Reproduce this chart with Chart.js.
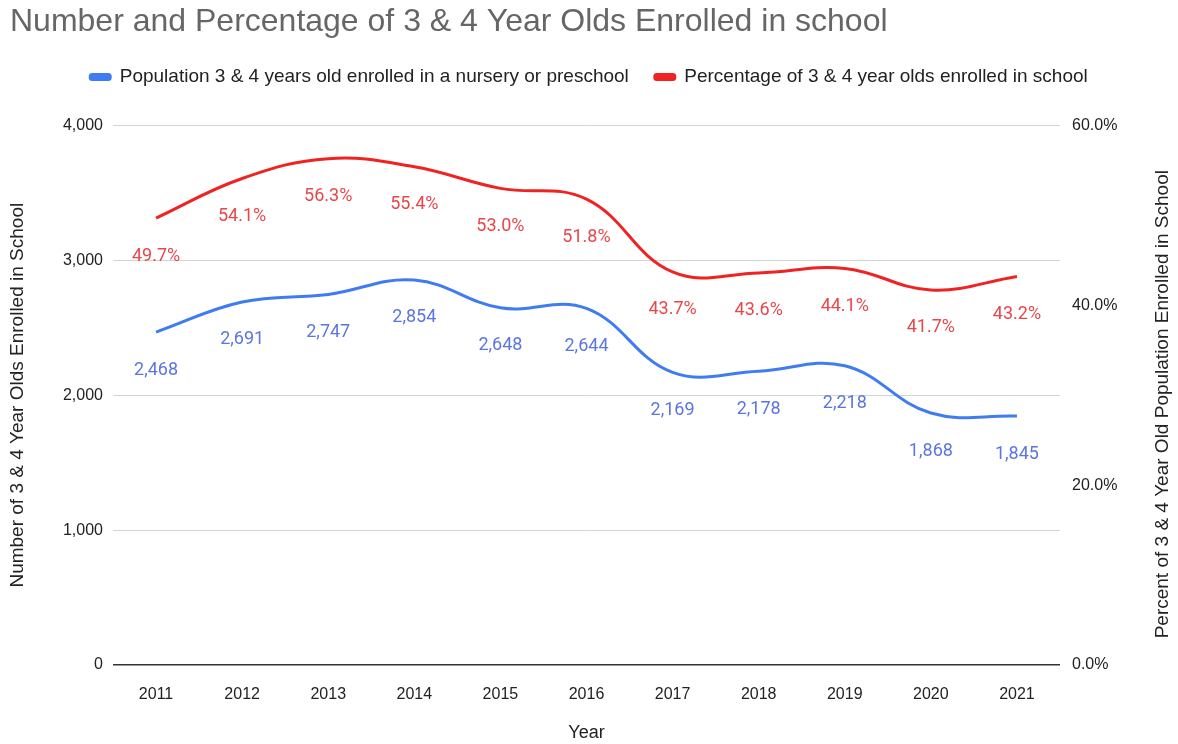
<!DOCTYPE html>
<html>
<head>
<meta charset="utf-8">
<script src="https://cdn.jsdelivr.net/npm/chart.js@4.4.1/dist/chart.umd.min.js"></script>
<style>
  html, body { margin: 0; padding: 0; background: #fff; }
  #wrap { width: 1178px; height: 744px; position: relative; }
</style>
</head>
<body>
<div id="wrap"><canvas id="chart"></canvas></div>
<script>
const years = ["2011", "2012", "2013", "2014", "2015", "2016", "2017", "2018", "2019", "2020", "2021"];
const enrolled = [2468, 2691, 2747, 2854, 2648, 2644, 2169, 2178, 2218, 1868, 1845];
const percentEnrolled = [49.7, 54.1, 56.3, 55.4, 53.0, 51.8, 43.7, 43.6, 44.1, 41.7, 43.2];

const blue = "#3f7cf2";
const red = "#f02222";
const sansFont = "'Liberation Sans', Arial, sans-serif";

// labels under each point, like the sheet export
const pointLabels = {
  id: "pointLabels",
  afterDatasetsDraw(chart) {
    const ctx = chart.ctx;
    ctx.save();
    ctx.font = "18px Roboto, sans-serif";
    ctx.textAlign = "center";
    ctx.textBaseline = "middle";
    chart.data.datasets.forEach((ds, i) => {
      const meta = chart.getDatasetMeta(i);
      ctx.fillStyle = ds.labelColor;
      meta.data.forEach((pt, j) => {
        ctx.fillText(ds.format(ds.data[j]), pt.x, pt.y + 38);
      });
    });
    ctx.restore();
  }
};

// right title reads bottom to top
const rightTitle = {
  id: "rightTitle",
  afterDraw(chart) {
    const area = chart.chartArea;
    const ctx = chart.ctx;
    ctx.save();
    ctx.translate(1163, (area.top + area.bottom) / 2 + 9);
    ctx.rotate(-Math.PI / 2);
    ctx.font = "19px " + sansFont;
    ctx.fillStyle = "#222";
    ctx.textAlign = "center";
    ctx.textBaseline = "middle";
    ctx.fillText("Percent of 3 & 4 Year Old Population Enrolled in School", 0, 0);
    ctx.restore();
  }
};

// more room under the legend, title nudged off the edge
const boxTweaks = {
  id: "boxTweaks",
  afterInit(chart) {
    const lg = chart.legend;
    if (lg) {
      const fit = lg.fit.bind(lg);
      lg.fit = function () {
        fit();
        this.height += 29;
      };
    }
    const tb = chart.titleBlock;
    if (tb) {
      const draw = tb.draw.bind(tb);
      tb.draw = function () {
        chart.ctx.save();
        chart.ctx.translate(10, 0);
        draw();
        chart.ctx.restore();
      };
    }
  }
};

new Chart(document.getElementById("chart"), {
  type: "line",
  data: {
    labels: years,
    datasets: [
      {
        label: "Population 3 & 4 years old enrolled in a nursery or preschool",
        data: enrolled,
        yAxisID: "y",
        borderColor: blue,
        backgroundColor: blue,
        labelColor: "#5a76e0",
        format: (v) => v.toLocaleString("en-US"),
        borderWidth: 3,
        tension: 0.4,
        pointRadius: 0
      },
      {
        label: "Percentage of 3 & 4 year olds enrolled in school",
        data: percentEnrolled,
        yAxisID: "y1",
        borderColor: red,
        backgroundColor: red,
        labelColor: "#e8474a",
        format: (v) => v.toFixed(1) + "%",
        borderWidth: 3,
        tension: 0.4,
        pointRadius: 0
      }
    ]
  },
  options: {
    responsive: true,
    maintainAspectRatio: false,
    animation: false,
    layout: { padding: 0 },
    plugins: {
      title: {
        display: true,
        text: "Number and Percentage of 3 & 4 Year Olds Enrolled in school",
        align: "start",
        color: "#666",
        font: { family: sansFont, size: 32, weight: "normal" },
        padding: { top: 3, bottom: 0 }
      },
      legend: {
        labels: {
          color: "#222",
          font: { family: sansFont, size: 19 },
          boxWidth: 20,
          boxHeight: 5,
          padding: 26,
          useBorderRadius: true,
          borderRadius: 2
        }
      },
      tooltip: { enabled: false }
    },
    scales: {
      x: {
        offset: true,
        grid: { display: false },
        border: { display: false },
        ticks: { color: "#222", font: { family: sansFont, size: 16 }, padding: 12 },
        title: {
          display: true,
          text: "Year",
          color: "#222",
          font: { family: sansFont, size: 18 },
          padding: { top: 0, bottom: 0 }
        },
        afterFit(scale) { scale.height = 79; }
      },
      y: {
        position: "left",
        min: 0,
        max: 4000,
        ticks: {
          stepSize: 1000,
          color: "#222",
          font: { family: sansFont, size: 16 },
          padding: 10,
          callback: (v) => v.toLocaleString("en-US")
        },
        grid: {
          drawTicks: false,
          color: (c) => c.index === 0 ? "#333" : "#d4d4d4",
          lineWidth: (c) => c.index === 0 ? 1.5 : 1
        },
        border: { display: false },
        title: {
          display: true,
          text: "Number of 3 & 4 Year Olds Enrolled in School",
          color: "#222",
          font: { family: sansFont, size: 19 },
          padding: { top: 6, bottom: 4 }
        },
        afterFit(scale) { scale.width = 113; }
      },
      y1: {
        position: "right",
        min: 0,
        max: 60,
        ticks: {
          stepSize: 20,
          color: "#222",
          font: { family: sansFont, size: 16 },
          padding: 12,
          callback: (v) => v.toFixed(1) + "%"
        },
        grid: { display: false, drawTicks: false },
        border: { display: false },
        afterFit(scale) { scale.width = 118; }
      }
    }
  },
  plugins: [pointLabels, rightTitle, boxTweaks]
});
</script>
</body>
</html>
